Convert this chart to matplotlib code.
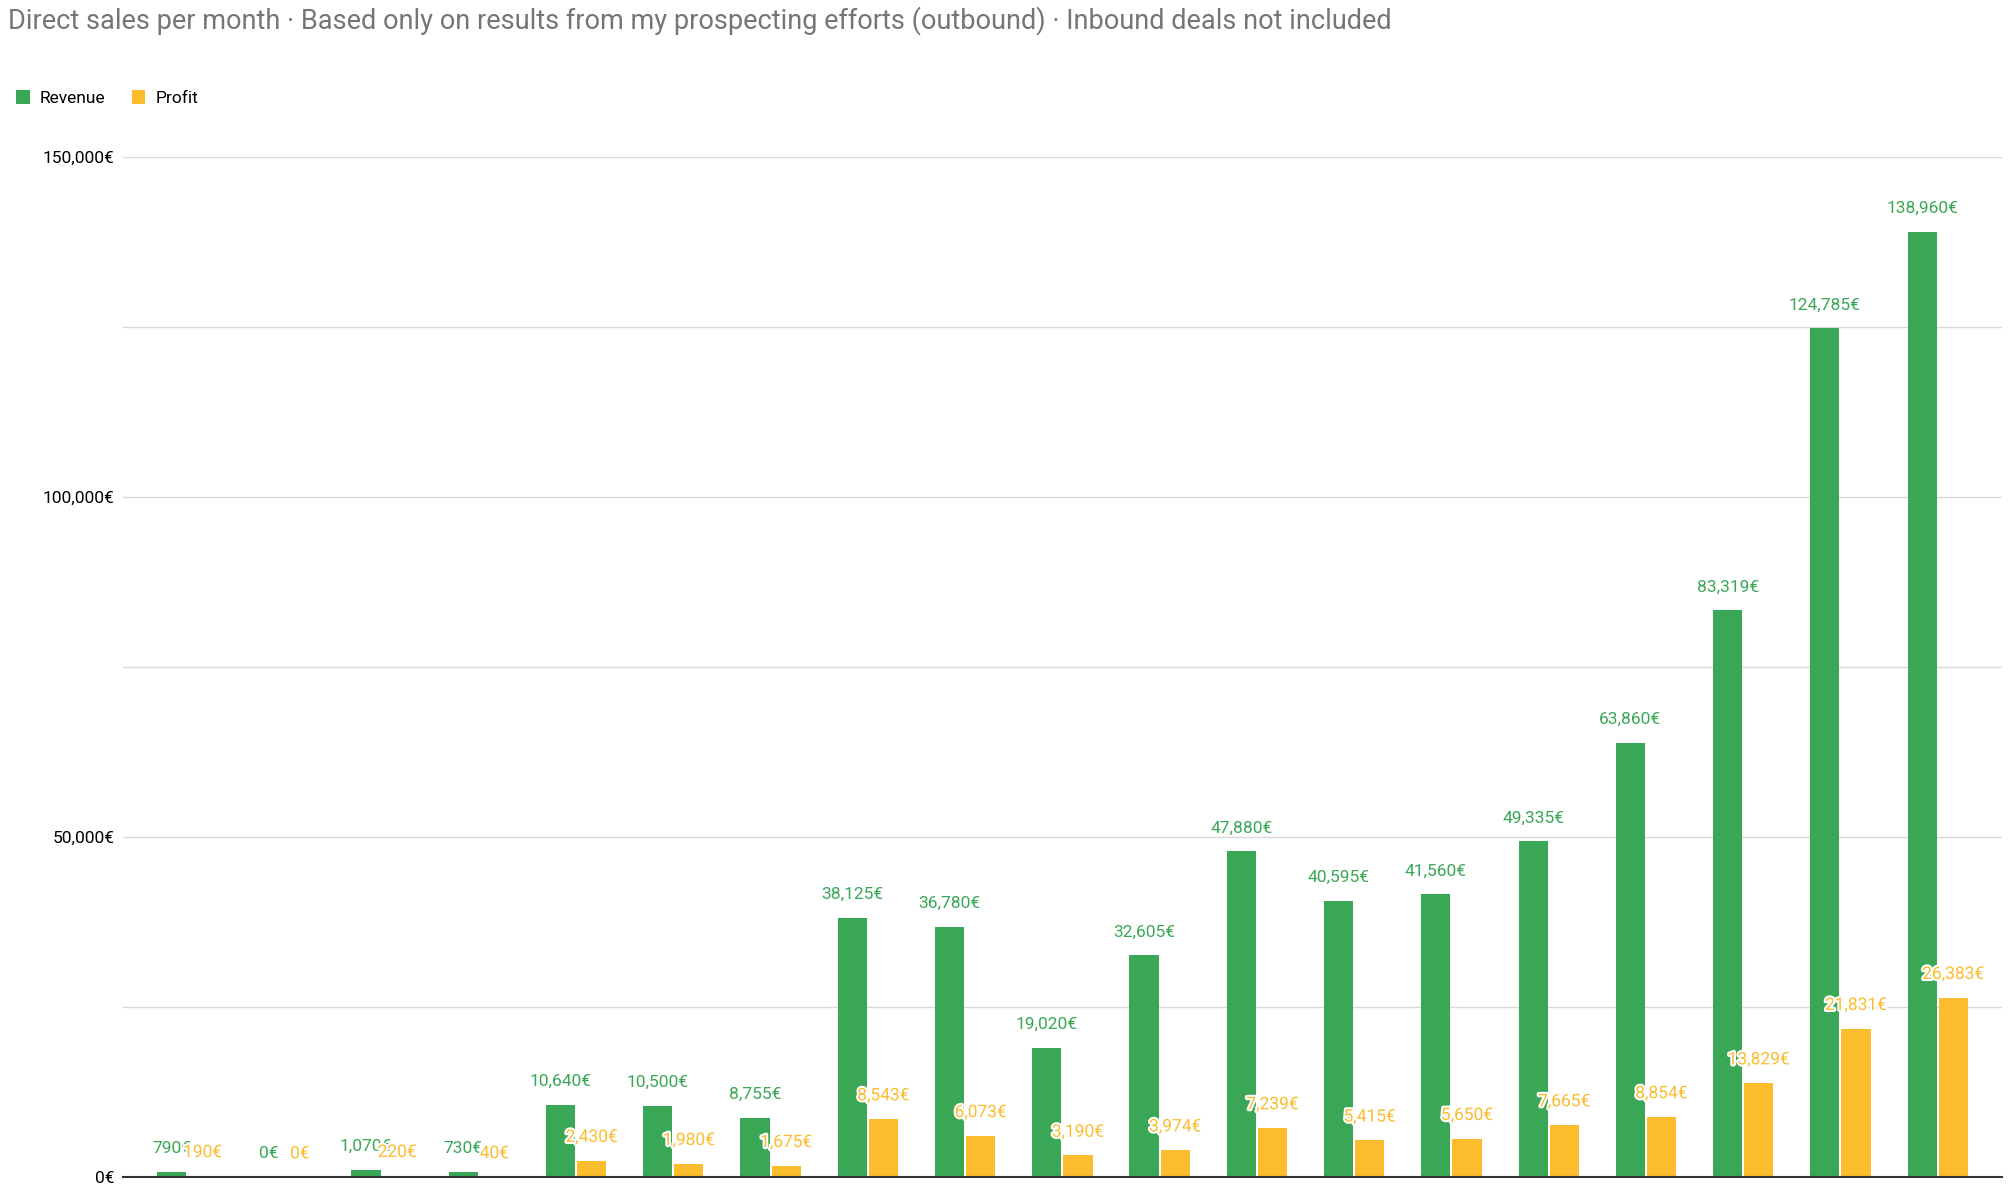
import matplotlib.pyplot as plt
import matplotlib.patheffects as pe
import numpy as np

revenue = [790, 0, 1070, 730, 10640, 10500, 8755, 38125, 36780, 19020,
           32605, 47880, 40595, 41560, 49335, 63860, 83319, 124785, 138960]
profit = [190, 0, 220, 40, 2430, 1980, 1675, 8543, 6073, 3190,
          3974, 7239, 5415, 5650, 7665, 8854, 13829, 21831, 26383]
yticks = [0, 25000, 50000, 75000, 100000, 125000, 150000]

GREEN = '#3aa757'
YELLOW = '#fbbc2e'

plt.rcParams['font.family'] = 'Roboto'
fig = plt.figure(figsize=(20.14, 11.86), dpi=100)
ax = fig.add_axes([0.061, 0.0075, 0.933, 0.8605])

x = np.arange(len(revenue))
w = 0.3
ax.bar(x - w / 2 - 0.01, revenue, w, color=GREEN, label='Revenue', zorder=2)
ax.bar(x + w / 2 + 0.01, profit, w, color=YELLOW, label='Profit', zorder=2)

def fmt(v):
  return '{:,}€'.format(v)

for i, (r, p) in enumerate(zip(revenue, profit)):
  ax.text(i - w / 2 - 0.01, r + 2300, fmt(r), ha='center', va='bottom',
          color=GREEN, fontsize=12.5, zorder=3)
  ax.text(i + w / 2 + 0.01, p + 2300, fmt(p), ha='center', va='bottom',
          color=YELLOW, fontsize=12.5, zorder=3,
          path_effects=[pe.withStroke(linewidth=3, foreground='white')])

ax.set_xlim(-0.66, len(revenue) - 0.34)
ax.set_ylim(0, 150000)
ax.set_yticks(yticks)
ax.set_yticklabels([fmt(v) if v % 50000 == 0 else '' for v in yticks],
                   fontsize=12.5)
ax.set_xticks([])
ax.tick_params(axis='y', length=0, pad=6)
ax.grid(axis='y', color='#d9d9d9', linewidth=1, zorder=0)
for s in ['top', 'right', 'left']:
  ax.spines[s].set_visible(False)
ax.spines['bottom'].set_color('#333333')
ax.spines['bottom'].set_linewidth(1.5)
ax.spines['bottom'].set_zorder(4)

fig.text(0.004, 0.995, 'Direct sales per month · Based only on results from my prospecting '
         'efforts (outbound) · Inbound deals not included',
         fontsize=19.5, color='#757575', va='top')
fig.legend(loc='upper left', bbox_to_anchor=(0.0, 0.937), ncol=2, frameon=False,
           fontsize=12.5, handlelength=0.8, handleheight=0.8, columnspacing=1.5,
           handletextpad=0.6)

fig.savefig('out.png', dpi=100)
